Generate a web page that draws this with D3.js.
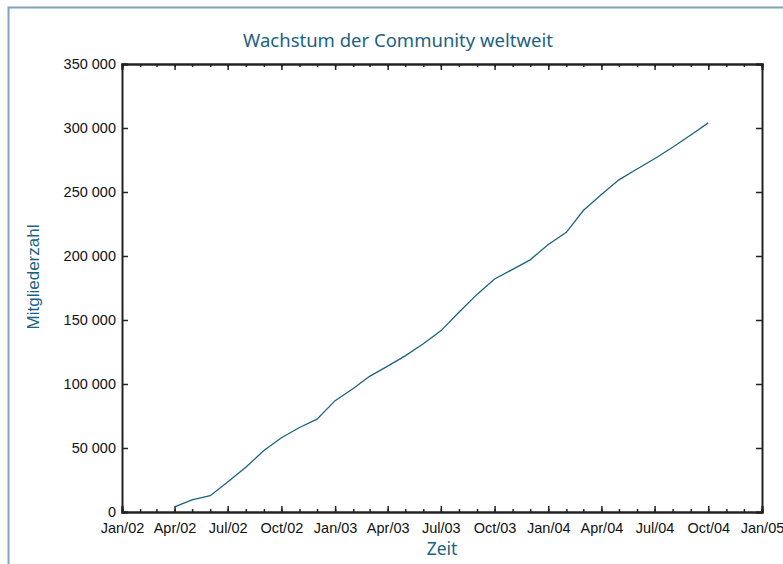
<!DOCTYPE html>
<html>
<head>
<meta charset="utf-8">
<script src="https://cdn.jsdelivr.net/npm/d3@7"></script>
<style>
  body { margin: 0; background: #fff; }
  svg { display: block; }
</style>
</head>
<body>
<div id="chart"></div>
<script>
// datos: miembros de la comunidad por mes
const months = [
  "2002-04", "2002-05", "2002-06", "2002-07", "2002-08", "2002-09", "2002-10", "2002-11", "2002-12",
  "2003-01", "2003-02", "2003-03", "2003-04", "2003-05", "2003-06", "2003-07", "2003-08", "2003-09",
  "2003-10", "2003-11", "2003-12", "2004-01", "2004-02", "2004-03", "2004-04", "2004-05", "2004-06",
  "2004-07", "2004-08", "2004-09", "2004-10"
];
const members = [
  4000, 9400, 12700, 23500, 35000, 48000, 58000, 66000, 72500,
  87000, 96500, 106000, 114000, 122000, 131500, 141500, 156000, 170000,
  182000, 189500, 197000, 209000, 218500, 235500, 248000, 259500, 268000,
  276000, 285000, 294500, 304000
];
const yTicks = [0, 50000, 100000, 150000, 200000, 250000, 300000, 350000];
const xStart = "2002-01";
const xEnd = "2005-01";

const title = "Wachstum der Community weltweit";
const xTitle = "Zeit";
const yTitle = "Mitgliederzahl";

const totalWidth = 783;
const totalHeight = 564;
const margin = { top: 64, right: 21, bottom: 52, left: 122 };
const width = totalWidth - margin.left - margin.right;
const height = totalHeight - margin.top - margin.bottom;

const teal = "#1c6283";
const parseMonth = d3.timeParse("%Y-%m");
const data = months.map((m, i) => ({ date: parseMonth(m), value: members[i] }));

const svg = d3.select("#chart")
  .append("svg")
  .attr("width", totalWidth)
  .attr("height", totalHeight);

// marco exterior
svg.append("rect")
  .attr("x", 8.5)
  .attr("y", 7.5)
  .attr("width", totalWidth + 20)
  .attr("height", totalHeight + 20)
  .attr("fill", "none")
  .attr("stroke", "#7fa6b8")
  .attr("stroke-width", 2);

const g = svg.append("g")
  .attr("transform", `translate(${margin.left},${margin.top})`);

const x = d3.scaleTime()
  .domain([parseMonth(xStart), parseMonth(xEnd)])
  .range([0, width]);
const y = d3.scaleLinear()
  .domain([0, 350000])
  .range([height, 0]);

const locale = d3.formatLocale({ decimal: ",", thousands: " ", grouping: [3], currency: ["", " €"] });
const fmt = locale.format(",d");
const monthFmt = d3.timeFormat("%b/%y");

const quarters = x.ticks(d3.timeMonth.every(3));
const allMonths = x.ticks(d3.timeMonth.every(1));

// ejes menores (mensuales)
g.append("g")
  .attr("class", "axis")
  .attr("transform", `translate(0,${height})`)
  .call(d3.axisBottom(x).tickValues(allMonths).tickSize(-3).tickFormat(""));
g.append("g")
  .attr("class", "axis")
  .call(d3.axisTop(x).tickValues(allMonths).tickSize(-3).tickFormat(""));

// ejes principales
g.append("g")
  .attr("class", "axis")
  .attr("transform", `translate(0,${height})`)
  .call(d3.axisBottom(x).tickValues(quarters).tickSize(-6).tickPadding(10.5).tickFormat(monthFmt));
g.append("g")
  .attr("class", "axis")
  .call(d3.axisTop(x).tickValues(quarters).tickSize(-6).tickFormat(""));
g.append("g")
  .attr("class", "axis")
  .call(d3.axisLeft(y).tickValues(yTicks).tickSize(-6).tickPadding(6).tickFormat(fmt));
g.append("g")
  .attr("class", "axis")
  .attr("transform", `translate(${width},0)`)
  .call(d3.axisRight(y).tickValues(yTicks).tickSize(-6).tickFormat(""));

g.selectAll(".axis path, .axis line")
  .attr("stroke", "#222")
  .attr("stroke-width", 1.5);
g.selectAll(".axis .domain").attr("stroke-width", 2);
g.selectAll(".axis text")
  .attr("fill", "#111")
  .style("font-family", "'Liberation Sans', Arial, sans-serif")
  .style("font-size", "14.5px");

// linea de datos
const line = d3.line()
  .x((d) => x(d.date))
  .y((d) => y(d.value));

g.append("path")
  .datum(data)
  .attr("fill", "none")
  .attr("stroke", teal)
  .attr("stroke-width", 1.3)
  .attr("d", line);

// titulos
svg.append("text")
  .attr("x", 398)
  .attr("y", 47)
  .attr("text-anchor", "middle")
  .attr("fill", teal)
  .style("font-family", "'Noto Sans', sans-serif")
  .style("font-size", "18.5px")
  .text(title);

svg.append("text")
  .attr("x", margin.left + width / 2)
  .attr("y", 555)
  .attr("text-anchor", "middle")
  .attr("fill", teal)
  .style("font-family", "'Noto Sans', sans-serif")
  .style("font-size", "17.5px")
  .text(xTitle);

svg.append("text")
  .attr("transform", `translate(39,277) rotate(-90)`)
  .attr("text-anchor", "middle")
  .attr("fill", teal)
  .style("font-family", "'Liberation Sans', Arial, sans-serif")
  .style("font-size", "17px")
  .text(yTitle);
</script>
</body>
</html>
